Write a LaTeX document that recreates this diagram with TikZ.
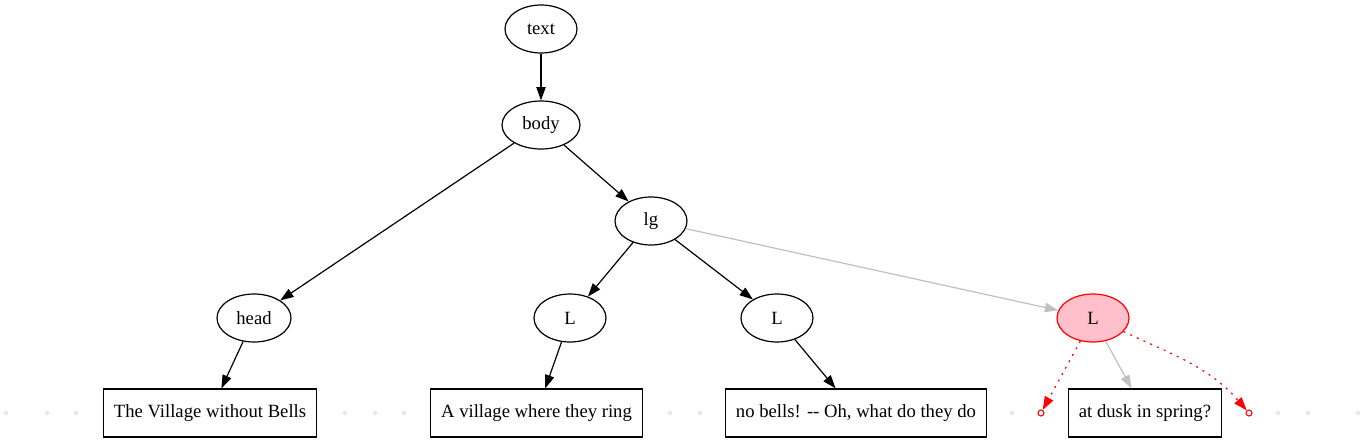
\documentclass[tikz,border=0pt]{standalone}
\usepackage{fontspec}
\setmainfont{Liberation Serif}
\usetikzlibrary{arrows.meta,shapes.geometric}
\definecolor{edgegray}{HTML}{C0C0C0}
\definecolor{dotgray}{HTML}{E8E8E8}
\definecolor{pinkfill}{HTML}{FFC0CB}
\begin{document}
\begin{tikzpicture}[x=0.75pt,y=-0.75pt,
  every node/.style={font=\fontsize{14pt}{16pt}\selectfont},
  ell/.style={draw, ellipse, minimum width=54pt, minimum height=36pt, inner sep=0pt, line width=0.9pt},
  box/.style={draw, rectangle, minimum height=36pt, inner xsep=8pt, line width=0.9pt},
  arr/.style={-{Triangle[length=10pt,width=7pt]}, line width=0.9pt},
  grayarr/.style={arr, draw=edgegray},
  redarr/.style={arr, draw=red, dash pattern=on 1.5pt off 4pt},
  tipc/.style={circle, draw=red, fill=white, inner sep=0pt, minimum size=4.5pt, line width=0.8pt},
  gdot/.style={circle, fill=dotgray, inner sep=0pt, minimum size=3.5pt}
]
\useasboundingbox (0,0) rectangle (1365,443);

% nodes
\node[ell] (text) at (541,29) {text};
\node[ell, minimum width=58.5pt] (body) at (541,125) {body};
\node[ell] (lg) at (651,221) {lg};
\node[ell, minimum width=55.5pt] (head) at (254,318) {head};
\node[ell] (L1) at (570,318) {L};
\node[ell] (L2) at (777,318) {L};
\node[ell, draw=red, fill=pinkfill] (L3) at (1093,318) {L};

\node[box] (b1) at (210,413) {The Village without Bells};
\node[box] (b2) at (536.5,413) {A village where they ring};
\node[box] (b3) at (856,413) {no bells! -{}- Oh, what do they do};
\node[box] (b4) at (1145,413) {at dusk in spring?};

% red tip circles
\node[tipc] (c1) at (1041,413) {};
\node[tipc] (c2) at (1249,413) {};

% light gray dots
\foreach \i/\x in {1/6,2/47,3/76,4/345,5/375,6/404,7/670,8/700,9/1012,10/1278,11/1308,12/1358}
  \node[gdot] (d\i) at (\x,413) {};

% edges
\draw[arr] (text) -- (body);
\draw[arr] (body) -- (head);
\draw[arr] (body) -- (lg);
\draw[arr] (lg) -- (L1);
\draw[arr] (lg) -- (L2);
\draw[grayarr] (lg) -- (L3);
\draw[arr] (head) -- (b1);
\draw[arr] (L1) -- (b2);
\draw[arr] (L2) -- (b3);
\draw[grayarr] (L3) -- (b4);
\draw[redarr] (L3) -- (c1);
\draw[redarr] (L3.-24) to[out=-25,in=131] (c2);
\end{tikzpicture}
\end{document}
